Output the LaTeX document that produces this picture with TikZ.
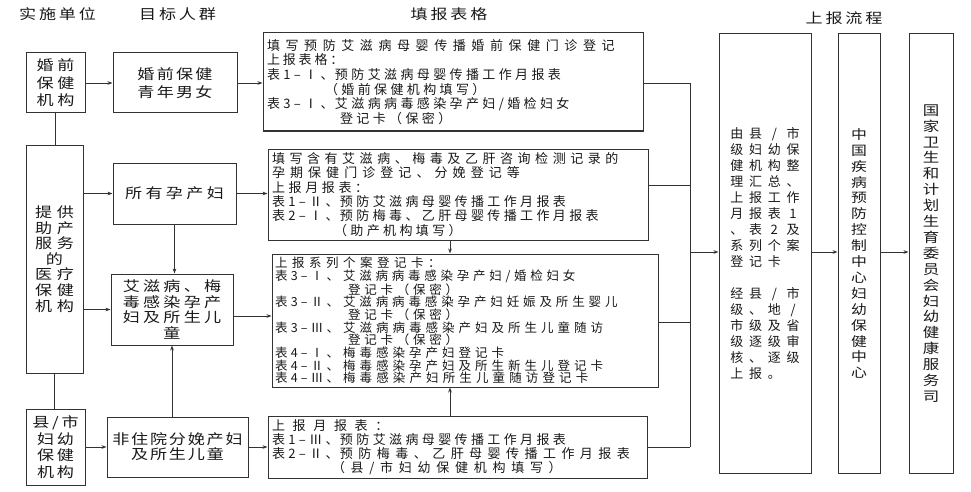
\documentclass[tikz,border=0pt]{standalone}
\usepackage{fontspec}
\setmainfont{Noto Sans CJK SC}
\newfontfamily\cjk{Noto Sans CJK SC}
\newfontfamily\cjkw[FakeStretch=1.22]{Noto Sans CJK SC}
\usetikzlibrary{arrows.meta}
\newcommand\LS[2]{{\addfontfeature{LetterSpace=#1}#2}}
\newcommand\E[1]{\LS{26}{#1}}
\newcommand\pre[1]{\makebox[68pt][l]{\LS{26}{#1}}}
\newcommand\lf[2]{\cjkw\fontsize{14}{#1}\selectfont\addfontfeature{LetterSpace=#2}}
\newcommand\ff[2]{\cjk\fontsize{#1}{#2}\selectfont}
\newcommand\gr[1]{\grA#1\relax}
\def\grA#1{\ifx\relax#1\else\makebox[18.7pt]{#1}\expandafter\grA\fi}
\begin{document}
\begin{tikzpicture}[x=1pt,y=-1pt,
  box/.style={draw=black!80,line width=1pt,inner sep=0pt,text=black!90},
  conn/.style={draw=black!80,line width=0.8pt},
  arr/.style={conn,-{Stealth[length=5pt,width=3.6pt]}},
  hdr/.style={inner sep=0pt,text=black!90,font=\lf{16}{20}}]
\useasboundingbox (0,0) rectangle (971,492);
% headers
\node[hdr] (h1) at (57.5,14) {实施单位};
\node[hdr] (h2) at (177.5,14) {目标人群};
\node[hdr] (h3) at (449,14) {填报表格};
\node[hdr] (h4) at (844,18) {上报流程};
% left column
\node[box,minimum width=59pt,minimum height=60pt,align=center,font=\lf{17.5}{26}] (hq) at (55.5,83) {婚前\\保健\\机构};
\node[box,minimum width=57pt,minimum height=228pt,align=center,font=\lf{15.6}{33}] (tg) at (54.5,259) {提供\\助产\\服务\\的\\医疗\\保健\\机构};
\node[box,minimum width=59pt,minimum height=76pt,align=center,font=\lf{16.7}{20}] (xs) at (55.5,447) {县/市\\妇幼\\保健\\机构};
% target groups
\node[box,minimum width=124pt,minimum height=60pt,align=center,font=\lf{18}{16}] (qn) at (175,83) {婚前保健\\青年男女};
\node[box,minimum width=123pt,minimum height=61pt,align=center,font=\lf{16}{24}] (syy) at (174.5,193.5) {所有孕产妇};
\node[box,minimum width=122pt,minimum height=71pt,align=center,font=\lf{15.6}{23}] (azb) at (172,309.5) {艾滋病、梅\\毒感染孕产\\妇及所生儿\\童};
\node[box,minimum width=141pt,minimum height=60pt,align=center,font=\lf{15}{13}] (fz) at (177.5,447) {非住院分娩产妇\\及所生儿童};
% forms
\node[box,minimum width=380pt,minimum height=98pt,text width=372pt,align=left,font=\ff{13}{14.7}] (b1) at (453,82) {%
\LS{43}{填写预防艾滋病母婴传播婚前保健门诊登记}\\
\LS{22}{上报表格：}\\
\pre{表1–Ⅰ、}\E{预防艾滋病母婴传播工作月报表}\\
\hspace*{58pt}\E{（婚前保健机构填写）}\\
\pre{表3–Ⅰ、}\E{艾滋病病毒感染孕产妇/婚检妇女}\\
\hspace*{73pt}\E{登记卡（保密）}};
\node[box,minimum width=380pt,minimum height=91pt,text width=372pt,align=left,font=\ff{13}{14.3}] (b2) at (458,194.5) {%
\LS{35}{填写含有艾滋病、梅毒及乙肝咨询检测记录的}\\
\LS{39}{孕期保健门诊登记、分娩登记等}\\
\LS{28}{上报月报表：}\\
\pre{表1–Ⅱ、}\E{预防艾滋病母婴传播工作月报表}\\
\pre{表2–Ⅰ、}\E{预防梅毒、乙肝母婴传播工作月报表}\\
\hspace*{62pt}\E{（助产机构填写）}};
\node[box,minimum width=386pt,minimum height=133pt,text width=380pt,align=left,font=\ff{12.5}{12.67}] (b3) at (465,320.5) {%
\LS{36}{上报系列个案登记卡：}\\
\pre{表3–Ⅰ、}\LS{30}{艾滋病病毒感染孕产妇/婚检妇女}\\
\hspace*{73pt}\LS{30}{登记卡（保密）}\\
\pre{表3–Ⅱ、}\LS{31}{艾滋病病毒感染孕产妇妊娠及所生婴儿}\\
\hspace*{73pt}\LS{30}{登记卡（保密）}\\
\pre{表3–Ⅲ、}\LS{32}{艾滋病病毒感染产妇及所生儿童随访}\\
\hspace*{73pt}\LS{30}{登记卡（保密）}\\
\pre{表4–Ⅰ、}\LS{32}{梅毒感染孕产妇登记卡}\\
\pre{表4–Ⅱ、}\LS{32}{梅毒感染孕产妇及所生新生儿登记卡}\\
\pre{表4–Ⅲ、}\LS{33}{梅毒感染产妇所生儿童随访登记卡}};
\node[box,minimum width=379pt,minimum height=62pt,text width=371pt,align=left,font=\ff{13}{14}] (b4) at (457.5,447) {%
\LS{59}{上报月报表：}\\
\pre{表1–Ⅲ、}\E{预防艾滋病母婴传播工作月报表}\\
\pre{表2–Ⅱ、}\LS{42}{预防梅毒、乙肝母婴传播工作月报表}\\
\hspace*{60pt}\LS{44}{（县/市妇幼保健机构填写）}};
% reporting chain
\node[box,minimum width=92pt,minimum height=439pt,text width=74.8pt,align=left,font=\ff{13}{16}] (xb) at (765,253.5) {%
\gr{由县/市}\\\gr{级妇幼保}\\\gr{健机构整}\\\gr{理汇总、}\\\gr{上报工作}\\\gr{月报表1}\\\gr{、表2及}\\\gr{系列个案}\\\gr{登记卡}\\
\mbox{}\\
\gr{经县/市}\\\gr{级、地/}\\\gr{市级及省}\\\gr{级逐级审}\\\gr{核、逐级}\\\gr{上报。}};
\node[box,minimum width=42pt,minimum height=439pt,align=center,font={\cjkw\fontsize{13}{15.9}\selectfont}] (zg) at (859,253.5) {中\\国\\疾\\病\\预\\防\\控\\制\\中\\心\\妇\\幼\\保\\健\\中\\心};
\node[box,minimum width=44pt,minimum height=439pt,align=center,font={\cjkw\fontsize{13.5}{15.9}\selectfont}] (gj) at (931,253.5) {国\\家\\卫\\生\\和\\计\\划\\生\\育\\委\\员\\会\\妇\\幼\\健\\康\\服\\务\\司};
% helper coordinates
\coordinate (cx) at (690,0);
\coordinate (x450) at (450,0);
\coordinate (y185) at (0,185);
\coordinate (y252) at (0,252);
\coordinate (y316) at (0,316);
\coordinate (y322) at (0,322);
% connectors
\draw[arr] (hq) -- (qn);
\draw[arr] (qn.east) -- (qn.east -| b1.west);
\draw[conn] (hq.south) -- (hq.south |- tg.north);
\draw[arr] (tg.east |- syy.west) -- (syy.west);
\draw[arr] (tg.east |- azb.west) -- (azb.west);
\draw[conn] (tg.south) -- (tg.south |- xs.north);
\draw[arr] (xs) -- (fz);
\draw[arr] (syy.south) -- (syy.south |- azb.north);
\draw[arr] (fz.north -| azb.south) -- (azb.south);
\draw[arr] (syy.east) -- (syy.east -| b2.west);
\draw[arr] (azb.east |- y316) -- (b3.west |- y316);
\draw[arr] (fz) -- (b4);
\draw[arr] (b2.south -| x450) -- (b3.north -| x450);
\draw[arr] (b4.north -| x450) -- (b3.south -| x450);
\draw[conn] (b1.east |- qn.east) -- (cx |- qn.east);
\draw[conn] (b2.east |- y185) -- (cx |- y185);
\draw[conn] (b3.east |- y322) -- (cx |- y322);
\draw[conn] (b4.east) -- (cx |- b4.east);
\draw[conn] (cx |- qn.east) -- (cx |- b4.east);
\draw[arr] (cx |- y252) -- (xb.west |- y252);
\draw[arr] (xb.east |- y252) -- (zg.west |- y252);
\draw[arr] (zg.east |- y252) -- (gj.west |- y252);
\end{tikzpicture}
\end{document}
